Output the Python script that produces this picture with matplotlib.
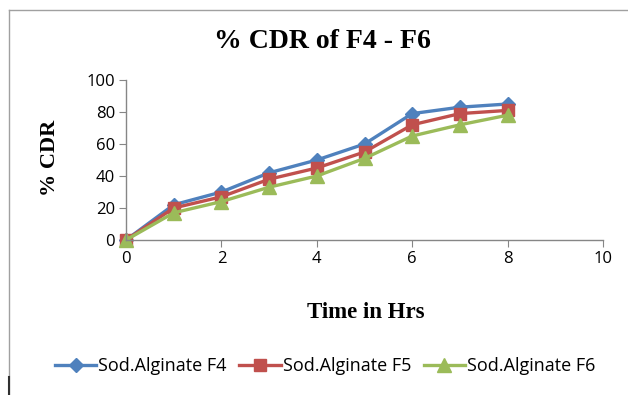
import numpy as np
import matplotlib.pyplot as plt
from matplotlib.lines import Line2D

time_hrs = [0, 1, 2, 3, 4, 5, 6, 7, 8]
cdr_f4 = [0, 22, 30, 42, 50, 60, 79, 83, 85]
cdr_f5 = [0, 20, 27, 38, 45, 55, 72, 79, 81]
cdr_f6 = [0, 17, 24, 33, 40, 51, 65, 72, 78]
series_names = ['Sod.Alginate F4', 'Sod.Alginate F5', 'Sod.Alginate F6']

SERIF = 'Liberation Serif'
SANS = 'Open Sans'

W, H = 628, 395
fig = plt.figure(figsize=(W / 100, H / 100), dpi=100)
ax = fig.add_axes([126 / W, 1 - 240 / H, 477 / W, 160 / H])

ax.plot(time_hrs, cdr_f4, color='#4F81BD', lw=2.4, marker='D', ms=7, label=series_names[0])
ax.plot(time_hrs, cdr_f5, color='#C0504D', lw=2.4, marker='s', ms=9, label=series_names[1])
ax.plot(time_hrs, cdr_f6, color='#9BBB59', lw=2.4, marker='^', ms=10, label=series_names[2])

ax.set_xlim(0, 10)
ax.set_ylim(0, 100)
ax.set_xticks(range(0, 11, 2))
ax.set_yticks(range(0, 101, 20))
for sp in ['top', 'right']:
    ax.spines[sp].set_visible(False)
for sp in ['left', 'bottom']:
    ax.spines[sp].set_color('#868686')
    ax.spines[sp].set_linewidth(1)
ax.tick_params(axis='both', direction='out', length=5, color='#868686', labelsize=12, pad=3)
for lab in ax.get_xticklabels() + ax.get_yticklabels():
    lab.set_family(SANS)
for ln in ax.lines:
    ln.set_clip_on(False)

fig.text(322 / W, 1 - 42 / H, '% CDR of F4 - F6', ha='center', va='center',
         family=SERIF, fontweight='bold', fontsize=20)
fig.text(50 / W, 1 - 158 / H, '% CDR', ha='center', va='center', rotation=90,
         family=SERIF, fontweight='bold', fontsize=16)
fig.text(366 / W, 1 - 312 / H, 'Time in Hrs', ha='center', va='center',
         family=SERIF, fontweight='bold', fontsize=16.5)

handles, labels = ax.get_legend_handles_labels()
fig.legend(handles, labels, loc='center', bbox_to_anchor=(325 / W, 1 - 366 / H), ncol=3,
           frameon=False, prop={'family': SANS, 'size': 13}, handlelength=2.3,
           handletextpad=0.1, columnspacing=0.7, borderpad=0, borderaxespad=0)

# outer chart frame
fig.add_artist(Line2D([9 / W, 1], [1 - 10 / H, 1 - 10 / H],
                      transform=fig.transFigure, color='#A0A0A0', lw=1))
fig.add_artist(Line2D([9 / W, 9 / W], [1 - 10 / H, 0],
                      transform=fig.transFigure, color='#A0A0A0', lw=1))
fig.add_artist(Line2D([9 / W, 9 / W], [1 - 377 / H, 0],
                      transform=fig.transFigure, color='#303030', lw=1.5))

fig.savefig('out.png', dpi=100)
